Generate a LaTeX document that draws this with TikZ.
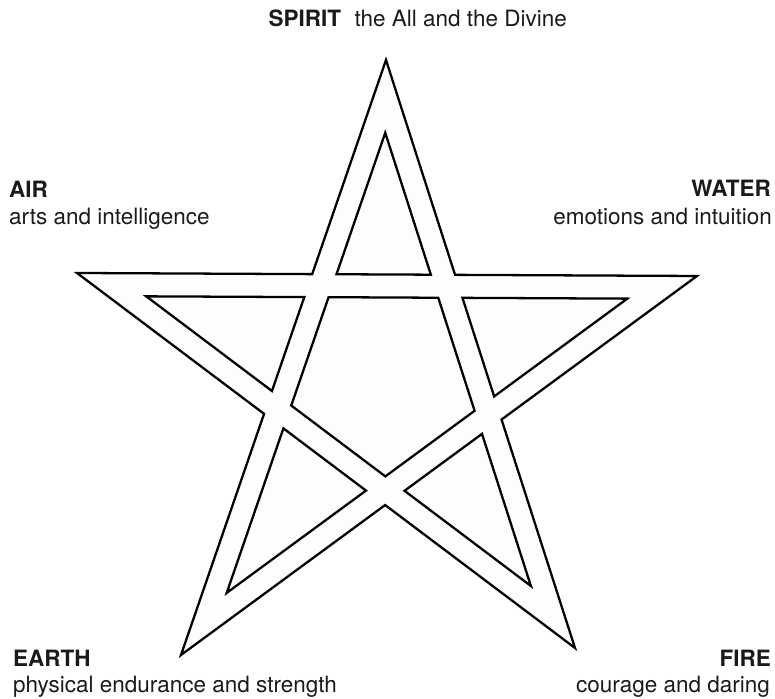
\documentclass[tikz,border=0pt]{standalone}
\usepackage{fontspec}
\setmainfont{TeX Gyre Heros}
\definecolor{inkgray}{HTML}{1A1A1A}
\definecolor{paper}{HTML}{FDFDFD}
\begin{document}
\begin{tikzpicture}[line width=1.3pt, line join=miter,
    band/.style={draw=black, fill=paper},
    lbl/.style={font=\fontsize{12.8}{15}\selectfont, text=inkgray, inner sep=0pt}]
  \useasboundingbox (0,0) rectangle (15.5,13.98);
  % outer outline of the star
  \draw[band] (7.720,12.780) -- (9.101,8.483) -- (13.940,8.460) -- (10.031,5.589)
    -- (11.500,1.020) -- (7.703,3.879) -- (3.620,0.880) -- (5.281,5.703)
    -- (1.540,8.520) -- (6.244,8.497) -- cycle;
  % triangles in the five points
  \draw[band] (7.705,11.324) -- (8.617,8.486) -- (6.730,8.495) -- cycle;
  \draw[band] (9.249,8.023) -- (12.546,8.007) -- (9.883,6.051) -- cycle;
  \draw[band] (9.640,5.302) -- (10.618,2.260) -- (8.090,4.164) -- cycle;
  \draw[band] (5.668,5.412) -- (7.320,4.168) -- (4.534,2.122) -- cycle;
  \draw[band] (2.925,8.053) -- (6.086,8.038) -- (5.439,6.160) -- cycle;
  % pentagon in the middle
  \draw[band] (6.572,8.036) -- (8.765,8.025) -- (9.492,5.764) -- (7.707,4.452)
    -- (5.825,5.869) -- cycle;
  % labels
  \node[lbl, anchor=base east] (spirit) at (11.360,13.440) {\textbf{SPIRIT}\hspace{0.6em}the All and the Divine};
  \node[lbl, anchor=base west] (air) at (0.160,10.020) {\textbf{AIR}};
  \node[lbl, anchor=base west] (airtext) at (0.160,9.480) {arts and intelligence};
  \node[lbl, anchor=base east] (water) at (15.440,10.040) {\textbf{WATER}};
  \node[lbl, anchor=base east] (watertext) at (15.460,9.480) {emotions and intuition};
  \node[lbl, anchor=base west] (earth) at (0.240,0.640) {\textbf{EARTH}};
  \node[lbl, anchor=base west] (earthtext) at (0.240,0.120) {physical endurance and strength};
  \node[lbl, anchor=base east] (fire) at (15.440,0.640) {\textbf{FIRE}};
  \node[lbl, anchor=base east] (firetext) at (15.420,0.120) {courage and daring};
\end{tikzpicture}
\end{document}
